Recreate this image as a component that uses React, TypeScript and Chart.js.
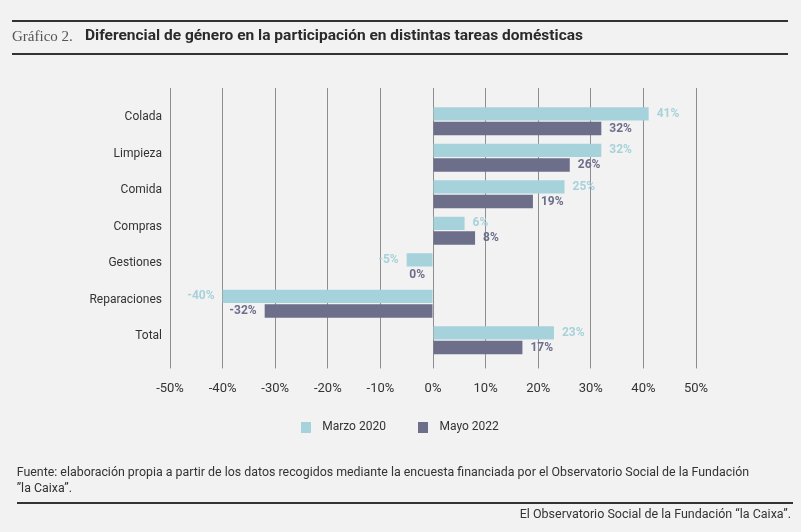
import React, { useEffect, useRef } from 'react';
import { Chart, registerables } from 'chart.js';

Chart.register(...registerables);

const categories = ['Colada', 'Limpieza', 'Comida', 'Compras', 'Gestiones', 'Reparaciones', 'Total'];
const marzo2020 = [41, 32, 25, 6, -5, -40, 23];
const mayo2022 = [32, 26, 19, 8, 0, -32, 17];
const seriesNames = ['Marzo 2020', 'Mayo 2022'];
const xMin = -50;
const xMax = 50;
const xStep = 10;

const COLOR_MARZO = '#a6d2db';
const COLOR_MAYO = '#6d6e8a';
const GRID = '#8e8e8e';
const TEXT = '#333333';
const FONT = 'Roboto, "Noto Sans", sans-serif';

function makeSwatch(color: string) {
  const c = document.createElement('canvas');
  c.width = 10;
  c.height = 11;
  const g = c.getContext('2d');
  if (g) {
    g.fillStyle = color;
    g.fillRect(0, 0, 10, 11);
  }
  return c;
}

const valueLabels = {
  id: 'valueLabels',
  afterDatasetsDraw(chart: any) {
    const ctx = chart.ctx;
    chart.data.datasets.forEach((ds: any, di: number) => {
      const meta = chart.getDatasetMeta(di);
      meta.data.forEach((el: any, i: number) => {
        const v = ds.data[i];
        const { x, y, base } = el.getProps(['x', 'y', 'base'], true);
        ctx.save();
        ctx.font = `bold 12px ${FONT}`;
        ctx.fillStyle = ds.backgroundColor;
        ctx.textBaseline = 'middle';
        if (v > 0) {
          ctx.textAlign = 'left';
          ctx.fillText(`${v}%`, Math.max(x, base) + 8, y);
        } else {
          ctx.textAlign = 'right';
          ctx.fillText(`${v}%`, Math.min(x, base) - 8, y);
        }
        ctx.restore();
      });
    });
  },
};

export default function App() {
  const ref = useRef<HTMLCanvasElement | null>(null);

  useEffect(() => {
    document.body.style.margin = '0';
    document.body.style.background = '#f2f2f2';
    if (!ref.current) return;
    const swatches = [makeSwatch(COLOR_MARZO), makeSwatch(COLOR_MAYO)];
    Chart.defaults.font.family = FONT;
    const chart = new Chart(ref.current, {
      type: 'bar',
      data: {
        labels: categories,
        datasets: [
          {
            label: seriesNames[0],
            data: marzo2020,
            backgroundColor: COLOR_MARZO,
            borderWidth: 0,
            xAxisID: 'x',
            yAxisID: 'y',
            categoryPercentage: 0.8,
            barPercentage: 0.92,
          },
          {
            label: seriesNames[1],
            data: mayo2022,
            backgroundColor: COLOR_MAYO,
            borderWidth: 0,
            xAxisID: 'x',
            yAxisID: 'y',
            categoryPercentage: 0.8,
            barPercentage: 0.92,
          },
        ],
      },
      options: {
        indexAxis: 'y',
        responsive: false,
        animation: false,
        layout: { padding: { top: 87.95, left: 0, right: 7, bottom: 89 } },
        plugins: {
          tooltip: { enabled: false },
          legend: {
            position: 'bottom',
            align: 'center',
            labels: {
              usePointStyle: true,
              pointStyleWidth: 21,
              padding: 26.6,
              color: TEXT,
              font: { size: 12, family: FONT },
              generateLabels: (c: any) =>
                c.data.datasets.map((ds: any, i: number) => ({
                  text: ds.label,
                  fillStyle: ds.backgroundColor,
                  strokeStyle: ds.backgroundColor,
                  lineWidth: 0,
                  pointStyle: swatches[i],
                  datasetIndex: i,
                  hidden: false,
                  fontColor: TEXT,
                })),
            },
          },
        },
        scales: {
          x: {
            type: 'linear',
            position: 'bottom',
            min: xMin,
            max: xMax,
            ticks: {
              stepSize: xStep,
              color: TEXT,
              font: { size: 13, family: FONT },
              padding: 12,
              callback: (v: any) => `${v}%`,
            },
            grid: { color: GRID, lineWidth: 1, drawTicks: true, tickLength: 10, drawOnChartArea: true },
            border: { display: false },
            afterFit: (s: any) => {
              s.height = 35.95;
            },
          },
          x2: {
            type: 'linear',
            position: 'top',
            min: xMin,
            max: xMax,
            ticks: { stepSize: xStep, display: false },
            grid: { color: GRID, lineWidth: 1, drawTicks: true, tickLength: 15, drawOnChartArea: false },
            border: { display: false },
            afterFit: (s: any) => {
              s.height = 15;
            },
          },
          y: {
            type: 'category',
            position: 'left',
            ticks: {
              color: TEXT,
              font: { size: 12, family: FONT },
              padding: 8,
              labelOffset: -4,
            },
            grid: { display: false, drawTicks: false },
            border: { display: false },
            afterFit: (s: any) => {
              s.width = 170;
            },
          },
          y2: {
            type: 'linear',
            position: 'right',
            ticks: { display: false },
            grid: { display: false, drawTicks: false },
            border: { display: false },
            afterFit: (s: any) => {
              s.width = 98;
            },
          },
        },
      },
      plugins: [valueLabels],
    } as any);
    return () => chart.destroy();
  }, []);

  const rule = (left: number, top: number, width: number) => (
    <div style={{ position: 'absolute', left, top, width, height: 2, background: '#333' }} />
  );

  return (
    <div
      style={{
        position: 'absolute',
        left: 0,
        top: 0,
        width: 801,
        height: 532,
        background: '#f2f2f2',
        overflow: 'hidden',
        fontFamily: FONT,
      }}
    >
      <canvas ref={ref} width={801} height={532} style={{ position: 'absolute', left: 0, top: 0, width: 801, height: 532 }} />
      {rule(12, 20, 776)}
      <div
        style={{
          position: 'absolute',
          left: 12,
          top: 25.6,
          lineHeight: '20px',
          fontSize: 15,
          fontFamily: '"Liberation Serif", "DejaVu Serif", serif',
          color: '#555',
          whiteSpace: 'nowrap',
        }}
      >
        Gráfico 2.
      </div>
      <div
        style={{
          position: 'absolute',
          left: 85,
          top: 25.3,
          lineHeight: '20px',
          fontSize: 15.5,
          fontWeight: 700,
          color: '#2a2a2a',
          whiteSpace: 'nowrap',
        }}
      >
        Diferencial de género en la participación en distintas tareas domésticas
      </div>
      {rule(12, 52.7, 776)}
      <div
        style={{
          position: 'absolute',
          left: 16.7,
          top: 463.6,
          fontSize: 12.4,
          lineHeight: '16px',
          color: TEXT,
          whiteSpace: 'nowrap',
        }}
      >
        Fuente: elaboración propia a partir de los datos recogidos mediante la encuesta financiada por el Observatorio Social de la Fundación
        <br />
        ”la Caixa”.
      </div>
      {rule(16.7, 502, 776)}
      <div
        style={{
          position: 'absolute',
          right: 10,
          top: 506.2,
          fontSize: 12.5,
          lineHeight: '16px',
          color: TEXT,
          whiteSpace: 'nowrap',
        }}
      >
        El Observatorio Social de la Fundación “la Caixa”.
      </div>
    </div>
  );
}
